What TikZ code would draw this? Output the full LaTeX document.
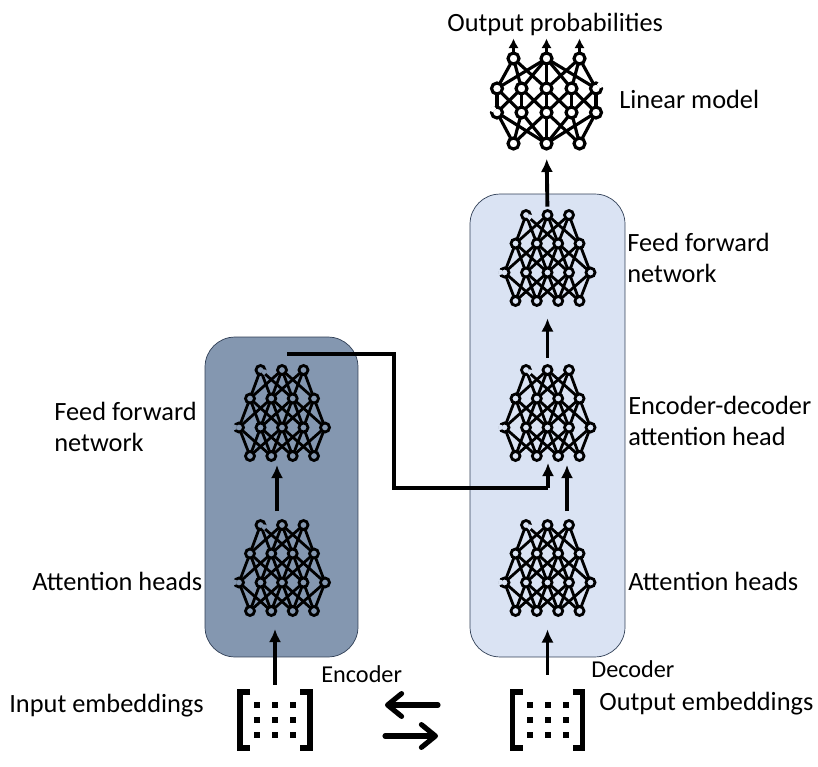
\documentclass[tikz,border=0pt]{standalone}
\usepackage{fontspec}
\setmainfont{Carlito}
\usetikzlibrary{arrows.meta,positioning}
\definecolor{encfill}{HTML}{8497B0}
\definecolor{decfill}{HTML}{DAE3F3}
\definecolor{panelline}{HTML}{2F3E55}
% edges between two layers, only where the x distance is at most the limit
\newcommand{\netedges}[5]{
	\foreach \xa in {#1} {
		\foreach \xb in {#3} {
			\pgfmathparse{abs(\xa-\xb)<=#5 ? 1 : 0}
			\ifdim\pgfmathresult pt>0pt
				\draw (\xa,#2) -- (\xb,#4);
			\fi
		}
	}
}
\tikzset{
	panel/.style={draw=panelline, rounded corners=0.6cm, inner sep=0pt},
	netbox/.style={minimum width=1.72cm, minimum height=1.72cm, inner sep=0pt},
	embbox/.style={minimum width=1.42cm, minimum height=1.4cm, inner sep=0pt},
	label/.style={anchor=west, align=left, inner sep=0pt, font=\fontsize{15}{17.6}\selectfont},
	flow/.style={line width=2.2pt, -{Latex[length=7.5pt,width=7pt]}},
	swap/.style={line width=2.9pt, line cap=round, -{Straight Barb[length=8pt,width=13pt,line width=2.9pt,round]}},
	smallnet/.pic={
		\begin{scope}[line width=1.6pt]
		\netedges{-21.5,0,21.5}{-43}{-32,-10.7,10.7,32}{-14.5}{45}
		\netedges{-32,-10.7,10.7,32}{-14.5}{-43,-21.5,0,21.5,43}{14.5}{33}
		\netedges{-43,-21.5,0,21.5,43}{14.5}{-32,-10.7,10.7,32}{43}{33}
		\foreach \x in {-21.5,0,21.5} {\draw[fill=#1] (\x,-43) circle (4.5);}
		\foreach \x in {-32,-10.7,10.7,32} {
			\draw[fill=#1] (\x,-14.5) circle (4.5);
			\draw[fill=#1] (\x,43) circle (4.5);
		}
		\foreach \x in {-43,-21.5,0,21.5,43} {\draw[fill=#1] (\x,14.5) circle (4.5);}
		% broken rings
		\draw[#1,line width=2pt] (-21.5,-43) +(-5:4.5) arc (-5:60:4.5);
		\draw[#1,line width=2pt] (-43,14.5) +(150:4.5) arc (150:215:4.5);
		\end{scope}
	},
	bignet/.pic={
		\begin{scope}[line width=1.8pt]
		\netedges{-33,0,33}{-42}{-49.5,-25,0,25,49.5}{-12}{50}
		\netedges{-49.5,-25,0,25,49.5}{-12}{-49.5,-25,0,25,49.5}{12}{26}
		\netedges{-49.5,-25,0,25,49.5}{12}{-33,0,33}{43}{50}
		\foreach \x in {-33,0,33} {
			\draw[fill=#1] (\x,-42) circle (5.5);
			\draw[fill=#1] (\x,43) circle (5.5);
			\draw[line width=1.7pt, -{Latex[length=5.5pt,width=6pt]}] (\x,-48) -- (\x,-62);
		}
		\foreach \x in {-49.5,-25,0,25,49.5} {
			\draw[fill=#1] (\x,-12) circle (5.5);
			\draw[fill=#1] (\x,12) circle (5.5);
		}
		% broken rings
		\draw[#1,line width=2.2pt] (49.5,-12) +(-70:5.5) arc (-70:-10:5.5);
		\draw[#1,line width=2.2pt] (-49.5,12) +(190:5.5) arc (190:250:5.5);
		\end{scope}
	},
	embed/.pic={
		\draw[line width=3.1pt] (-25,-28) -- (-35,-28) -- (-35,28) -- (-25,28);
		\draw[line width=3.1pt] (25,-28) -- (35,-28) -- (35,28) -- (25,28);
		\foreach \x in {-18,0,18} {
			\foreach \y in {-15,0,15} {
				\fill (\x,\y) +(-3,-3) rectangle +(3,3);
			}
		}
	},
}

\begin{document}
\begin{tikzpicture}[x=0.02cm,y=-0.02cm]
\useasboundingbox (0,0) rectangle (818,767);

% panels

\node[panel, fill=encfill, minimum width=3.06cm, minimum height=6.4cm] (encPanel) at (281.5,497) {};
\node[panel, fill=decfill, minimum width=3.1cm, minimum height=9.26cm] (decPanel) at (547.5,425.5) {};

% networks

\node[netbox] (encAtt) at (282,568) {};
\node[netbox] (encFfn) at (282,413) {};
\node[netbox] (decAtt) at (547.5,568) {};
\node[netbox] (decCross) at (547.5,413) {};
\node[netbox] (decFfn) at (547.5,258) {};
\node[netbox] (linear) at (546.5,100.5) {};
\node[embbox] (inEmb) at (275,720) {};
\node[embbox] (outEmb) at (547.5,720) {};

\pic at (encAtt) {smallnet=encfill};
\pic at (encFfn) {smallnet=encfill};
\pic at (decAtt) {smallnet=decfill};
\pic at (decCross) {smallnet=decfill};
\pic at (decFfn) {smallnet=decfill};
\pic at (linear) {bignet=white};
\pic at (inEmb) {embed};
\pic at (outEmb) {embed};

% free ends

\coordinate (encAttIn) at (275,629);
\coordinate (encAttOut) at (277,511);
\coordinate (encFfnIn) at (277,465);
\coordinate (encTap) at (287,354);
\coordinate (tapBendA) at (394,354);
\coordinate (tapBendB) at (394,488);
\coordinate (tapJoin) at (548,488);
\coordinate (crossInA) at (548,463);
\coordinate (attOut) at (567,511);
\coordinate (crossInB) at (567,465);
\coordinate (swapLT) at (438,705);
\coordinate (swapLH) at (385,705);
\coordinate (swapRT) at (385,736);
\coordinate (swapRH) at (438,736);

% connections

\draw[flow] (inEmb.north) -- (encAttIn);
\draw[flow] (encAttOut) -- (encFfnIn);
\draw[flow, shorten <=.2cm, shorten >=.36cm] (outEmb.north) -- (decAtt.south);
\draw[flow] (attOut) -- (crossInB);
\draw[flow, shorten <=.24cm, shorten >=.34cm] (decCross.north) -- (decFfn.south);
\draw[flow, shorten <=.16cm, shorten >=.3cm] (decFfn.north) -- (linear.south);
\draw[line width=2.2pt] (encTap) -- (tapBendA) -- (tapBendB) -- (tapJoin);
\draw[flow] (tapJoin) -- (crossInA);
\draw[swap] (swapLT) -- (swapLH);
\draw[swap] (swapRT) -- (swapRH);

% labels

\node[label] (outProb) at (447,24) {Output probabilities};
\node[label] (linLabel) at (619,99) {Linear model};
\node[label] (decFfnLabel) at (627,257.5) {Feed forward\\network};
\node[label] (decCrossLabel) at (628,420.5) {Encoder-decoder\\attention head};
\node[label] (decAttLabel) at (628,581) {Attention heads};
\node[label] (encFfnLabel) at (54,426.5) {Feed forward\\network};
\node[label] (encAttLabel) at (32,581) {Attention heads};
\node[label] (inLabel) at (9,706) {Input embeddings};
\node[label] (outLabel) at (599,704) {Output embeddings};
\node[label, font=\fontsize{13.8}{15}\selectfont] (encLabel) at (321,674) {Encoder};
\node[label, font=\fontsize{13.8}{15}\selectfont] (decLabel) at (591,669) {Decoder};

\end{tikzpicture}
\end{document}
